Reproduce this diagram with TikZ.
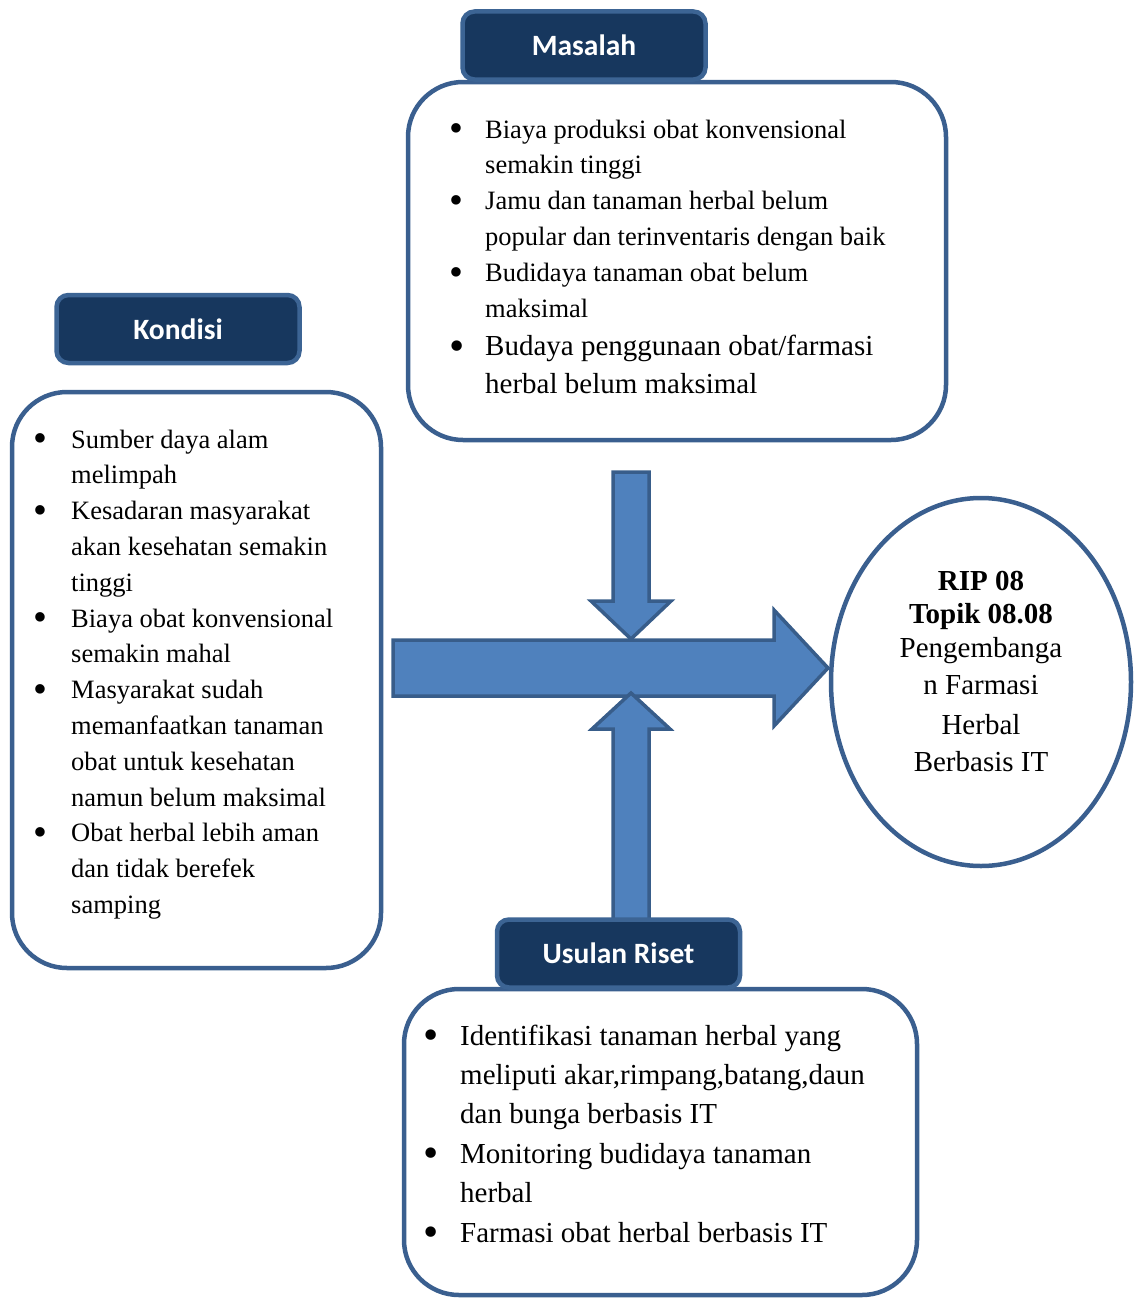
\documentclass[tikz,border=0pt]{standalone}
\usepackage{fontspec}
\setmainfont{Liberation Serif}
\newfontfamily\headfont{Carlito}
\usetikzlibrary{shapes.geometric,positioning}
\definecolor{navy}{HTML}{17375E}
\definecolor{headline}{HTML}{3C6494}
\definecolor{boxline}{HTML}{3A5F8F}
\definecolor{arrowfill}{HTML}{4F81BD}
\definecolor{arrowline}{HTML}{385D8A}
\newcommand{\dotmark}{\raisebox{-0.15em}{\scalebox{1.5}{\textbullet}}}
\tikzset{
  header/.style    ={draw=headline,line width=4.5pt,rounded corners=12pt,fill=navy,text=white,
                     font=\headfont\bfseries\fontsize{29.5}{34}\selectfont,minimum width=243pt,minimum height=68pt},
  panel/.style     ={draw=boxline,line width=4.5pt,rounded corners=55pt,fill=white},
  goal/.style      ={draw=boxline,line width=4.5pt,ellipse,minimum width=300pt,minimum height=368pt,inner sep=0pt},
  blockarrow/.style={draw=arrowline,line width=3.5pt,fill=arrowfill,line join=miter},
  listtext/.style  ={anchor=base west,inner sep=0pt,font=\fontsize{26.5}{35.8}\selectfont},
  bigtext/.style   ={anchor=base west,inner sep=0pt,font=\fontsize{29}{39.4}\selectfont}
}

\begin{document}
\begin{tikzpicture}[x=1pt,y=-1pt]
    \useasboundingbox (0,0) rectangle (1135,1298);
    % panels
    \node[panel,minimum width=538pt,minimum height=358pt] (masalahbox) at (677,261)    {};
    \node[panel,minimum width=369pt,minimum height=576pt] (kondisibox) at (196.5,680)  {};
    \node[panel,minimum width=513pt,minimum height=306pt] (usulanbox)  at (660.5,1142) {};
    % block arrows
    \draw[blockarrow] (393,640) -- (774,640) -- (774,610) -- (828,668) -- (774,726) -- (774,696) -- (393,696) -- cycle;
    \draw[blockarrow] (613,472) -- (649,472) -- (649,601) -- (671,601) -- (631,639) -- (591,601) -- (613,601) -- cycle;
    \draw[blockarrow] (631,693) -- (670,729) -- (649,729) -- (649,930) -- (613,930) -- (613,729) -- (592,729) -- cycle;
    % headers
    \node[header] (masalah) at (584,45.5)  {Masalah};
    \node[header] (kondisi) at (178,329)   {Kondisi};
    \node[header] (usulan)  at (618.5,953.5) {Usulan Riset};
    % goal
    \node[goal] (rip) at (981,682) {};
    \node[anchor=base,inner sep=0pt,font=\fontsize{29}{33.5}\selectfont] (riptext) at (981,590)
      {\begin{tabular}[t]{@{}c@{}}
        \textbf{RIP 08}\\
        \textbf{Topik 08.08}\\
        Pengembanga\\[4pt]
        n Farmasi\\[6pt]
        Herbal\\[4pt]
        Berbasis IT
      \end{tabular}};
    % lists
    \node[listtext] (masalahlist) at (449,138)
      {\begin{tabular}[t]{@{}p{36pt}@{}l@{}}
        \dotmark & Biaya produksi obat konvensional\\
                 & semakin tinggi\\
        \dotmark & Jamu dan tanaman herbal belum\\
                 & popular dan terinventaris dengan baik\\
        \dotmark & Budidaya tanaman obat belum\\
                 & maksimal\\[3pt]
        {\fontsize{29}{39}\selectfont\dotmark} & {\fontsize{29}{39}\selectfont Budaya penggunaan obat/farmasi}\\[2pt]
                 & {\fontsize{29}{39}\selectfont herbal belum maksimal}
      \end{tabular}};
    \node[listtext] (kondisilist) at (33,448)
      {\begin{tabular}[t]{@{}p{38pt}@{}l@{}}
        \dotmark & Sumber daya alam\\
                 & melimpah\\
        \dotmark & Kesadaran masyarakat\\
                 & akan kesehatan semakin\\
                 & tinggi\\
        \dotmark & Biaya obat konvensional\\
                 & semakin mahal\\
        \dotmark & Masyarakat sudah\\
                 & memanfaatkan tanaman\\
                 & obat untuk kesehatan\\
                 & namun belum maksimal\\
        \dotmark & Obat herbal lebih aman\\
                 & dan tidak berefek\\
                 & samping
      \end{tabular}};
    \node[bigtext] (usulanlist) at (423,1045)
      {\begin{tabular}[t]{@{}p{37pt}@{}l@{}}
        \dotmark & Identifikasi tanaman herbal yang\\
                 & meliputi akar,rimpang,batang,daun\\
                 & dan bunga berbasis IT\\
        \dotmark & Monitoring budidaya tanaman\\
                 & herbal\\
        \dotmark & Farmasi obat herbal berbasis IT
      \end{tabular}};
\end{tikzpicture}
\end{document}
